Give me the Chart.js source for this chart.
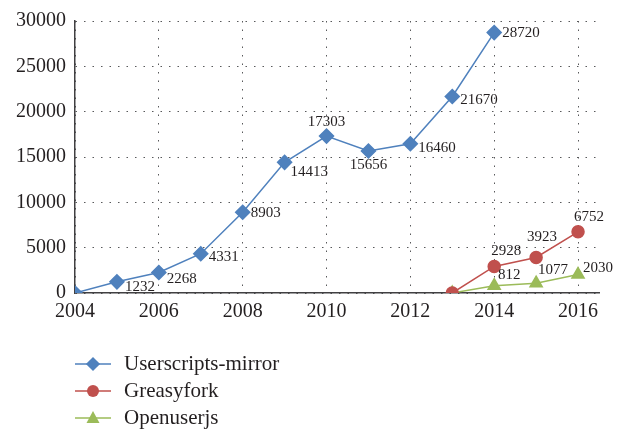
<!DOCTYPE html>
<html>
<head>
<meta charset="utf-8">
<script src="https://cdn.jsdelivr.net/npm/chart.js@4/dist/chart.umd.min.js"></script>
<style>
  html, body { margin: 0; padding: 0; background: #fff; }
  #wrap { position: relative; width: 632px; height: 430px; }
  #legend { position: absolute; left: 75px; top: 350px; font-family: "Liberation Serif", serif; font-size: 21px; color: #231f20; }
  .row { height: 27px; display: flex; align-items: center; }
  .row svg { margin-right: 13px; }
</style>
</head>
<body>
<div id="wrap">
  <canvas id="chart" width="632" height="430"></canvas>
  <div id="legend"></div>
</div>
<script>
// data
const years = [2004, 2005, 2006, 2007, 2008, 2009, 2010, 2011, 2012, 2013, 2014];
const mirrorValues = [0, 1232, 2268, 4331, 8903, 14413, 17303, 15656, 16460, 21670, 28720];
const newYears = [2013, 2014, 2015, 2016];
const greasyValues = [0, 2928, 3923, 6752];
const openValues = [0, 812, 1077, 2030];
const xTicks = [2004, 2006, 2008, 2010, 2012, 2014, 2016];
const yTicks = [0, 5000, 10000, 15000, 20000, 25000, 30000];

const seriesNames = ["Userscripts-mirror", "Greasyfork", "Openuserjs"];
const colors = ["#4f81bd", "#c0504d", "#9bbb59"];
const textColor = "#231f20";
const serif = "'Liberation Serif', serif";

function toPoints(xs, ys) {
    return xs.map((x, i) => ({ x: x, y: ys[i] }));
}

// where each value label sits relative to its marker [dx, dy, align]
const mirrorLabelPos = [null, [8, 5, "left"], [8, 7, "left"], [8, 3, "left"], [8, 1, "left"],
    [6, 10, "left"], [0, -14, "center"], [0, 14, "center"], [8, 4, "left"], [8, 4, "left"], [8, 0, "left"]];
const greasyLabelPos = [null, [12, -15, "center"], [6, -20, "center"], [11, -15, "center"]];
const openLabelPos = [null, [15, -11, "center"], [17, -13, "center"], [5, -7, "left"]];

const valueLabels = {
    id: "valueLabels",
    afterDatasetsDraw(chart) {
        const ctx = chart.ctx;
        ctx.save();
        ctx.font = "15px " + serif;
        ctx.fillStyle = textColor;
        ctx.textBaseline = "middle";
        chart.data.datasets.forEach((ds, di) => {
            const meta = chart.getDatasetMeta(di);
            meta.data.forEach((pt, i) => {
                const pos = ds.labelPos[i];
                if (!pos) return;
                ctx.textAlign = pos[2];
                ctx.fillText(String(ds.data[i].y), pt.x + pos[0], pt.y + pos[1]);
            });
        });
        ctx.restore();
    }
};

const ctx = document.getElementById("chart");
const chart = new Chart(ctx, {
    type: "line",
    data: {
        datasets: [
            {
                label: seriesNames[0],
                data: toPoints(years, mirrorValues),
                borderColor: colors[0],
                backgroundColor: colors[0],
                pointStyle: "rectRot",
                pointRadius: 7,
                borderWidth: 1.5,
                labelPos: mirrorLabelPos
            },
            {
                label: seriesNames[1],
                data: toPoints(newYears, greasyValues),
                borderColor: colors[1],
                backgroundColor: colors[1],
                pointStyle: "circle",
                pointRadius: 6,
                borderWidth: 1.5,
                labelPos: greasyLabelPos
            },
            {
                label: seriesNames[2],
                data: toPoints(newYears, openValues),
                borderColor: colors[2],
                backgroundColor: colors[2],
                pointStyle: "triangle",
                pointRadius: 7,
                borderWidth: 1.5,
                labelPos: openLabelPos
            }
        ]
    },
    options: {
        responsive: false,
        animation: false,
        layout: { padding: { top: 16, right: 33, bottom: 107, left: 0 } },
        plugins: {
            legend: { display: false },
            tooltip: { enabled: false }
        },
        elements: { line: { tension: 0 }, point: { borderWidth: 1 } },
        scales: {
            x: {
                type: "linear",
                min: 2004,
                max: 2016.5,
                afterBuildTicks: s => { s.ticks = xTicks.map(v => ({ value: v })); },
                afterFit: s => { s.height = 30; },
                ticks: { color: textColor, font: { family: serif, size: 20 }, padding: 7, maxRotation: 0,
                    callback: v => String(v) },
                grid: { color: "#58595b", lineWidth: 1, drawTicks: false },
                border: { color: "#414042", width: 1.5, dash: [1.5, 7] }
            },
            y: {
                min: 0,
                max: 30000,
                afterBuildTicks: s => { s.ticks = yTicks.map(v => ({ value: v })); },
                afterFit: s => { s.width = 75; },
                ticks: { color: textColor, font: { family: serif, size: 20 }, padding: 9,
                    callback: v => String(v) },
                grid: { color: "#58595b", lineWidth: 1, drawTicks: false },
                border: { color: "#414042", width: 1.5, dash: [1.5, 7] }
            }
        }
    },
    plugins: [valueLabels]
});

// legend below the plot
const legend = document.getElementById("legend");
const shapes = [
    '<rect x="-5" y="-5" width="10" height="10" transform="rotate(45)"/>',
    '<circle r="6"/>',
    '<polygon points="0,-7 6.5,5 -6.5,5"/>'
];
seriesNames.forEach((name, i) => {
    const row = document.createElement("div");
    row.className = "row";
    row.innerHTML =
        '<svg width="36" height="16" viewBox="-18 -8 36 16">' +
        '<line x1="-18" y1="0" x2="18" y2="0" stroke="' + colors[i] + '" stroke-width="1.5"/>' +
        '<g fill="' + colors[i] + '">' + shapes[i] + '</g></svg>' +
        '<span>' + name + '</span>';
    legend.appendChild(row);
});
</script>
</body>
</html>
